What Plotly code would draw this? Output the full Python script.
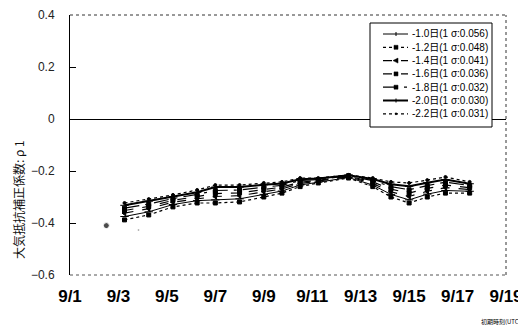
import plotly.graph_objects as go

# x: initial time (UTC)
times = ["2003-09-03 06:00", "2003-09-04 06:00", "2003-09-05 06:00", "2003-09-06 06:00",
         "2003-09-07 00:00", "2003-09-08 00:00", "2003-09-09 00:00", "2003-09-09 18:00",
         "2003-09-10 12:00", "2003-09-11 06:00", "2003-09-12 12:00", "2003-09-13 12:00",
         "2003-09-14 06:00", "2003-09-15 00:00", "2003-09-15 18:00", "2003-09-16 12:00",
         "2003-09-17 12:00"]

names = ["-1.0日(1 σ:0.056)", "-1.2日(1 σ:0.048)", "-1.4日(1 σ:0.041)", "-1.6日(1 σ:0.036)",
         "-1.8日(1 σ:0.032)", "-2.0日(1 σ:0.030)", "-2.2日(1 σ:0.031)"]

s10 = [-0.375, -0.357, -0.329, -0.314, -0.311, -0.307, -0.290, -0.277, -0.254, -0.243, -0.225, -0.254, -0.290, -0.311, -0.289, -0.275, -0.278]
s12 = [-0.388, -0.369, -0.338, -0.323, -0.323, -0.319, -0.300, -0.285, -0.260, -0.246, -0.227, -0.260, -0.300, -0.323, -0.300, -0.285, -0.285]
s14 = [-0.362, -0.345, -0.320, -0.306, -0.298, -0.295, -0.280, -0.269, -0.248, -0.239, -0.222, -0.248, -0.280, -0.298, -0.278, -0.264, -0.271]
s16 = [-0.352, -0.336, -0.313, -0.298, -0.287, -0.284, -0.271, -0.262, -0.243, -0.236, -0.220, -0.242, -0.270, -0.285, -0.267, -0.254, -0.264]
s18 = [-0.343, -0.327, -0.306, -0.290, -0.275, -0.273, -0.262, -0.255, -0.237, -0.233, -0.218, -0.237, -0.260, -0.272, -0.256, -0.243, -0.256]
s20 = [-0.332, -0.316, -0.298, -0.282, -0.262, -0.262, -0.253, -0.248, -0.232, -0.229, -0.216, -0.231, -0.251, -0.259, -0.245, -0.233, -0.249]
s22 = [-0.323, -0.308, -0.292, -0.273, -0.254, -0.254, -0.246, -0.242, -0.227, -0.227, -0.215, -0.227, -0.242, -0.246, -0.235, -0.223, -0.242]
series = [s10, s12, s14, s16, s18, s20, s22]

# isolated early points
iso_times = ["2003-09-02 12:00", "2003-09-03 20:00"]
iso_vals = [-0.41, -0.427]

tick_vals = ["2003-09-%02d" % d for d in range(1, 20, 2)]
tick_text = ["9/%d" % d for d in range(1, 20, 2)]

y_tick_vals = [-0.6, -0.4, -0.2, 0, 0.2, 0.4]
y_tick_text = ["\u22120.6", "\u22120.4", "\u22120.2", "0", "0.2", "0.4"]

styles = [
    dict(dash="solid", width=1, symbol="line-ew-open", size=6, leg="tick"),
    dict(dash="dot", width=1.2, symbol="square", size=4, leg="square"),
    dict(dash="dash", width=1.2, symbol="triangle-left", size=5, leg="tri"),
    dict(dash="dash", width=1.2, symbol="square", size=4, leg="square"),
    dict(dash="longdashdot", width=1.2, symbol="square", size=4, leg="square"),
    dict(dash="solid", width=2, symbol="line-ew-open", size=6, leg="tick"),
    dict(dash="dot", width=1.2, symbol="circle", size=3, leg="dot"),
]

fig = go.Figure()
for name, vals, st in zip(names, series, styles):
    fig.add_trace(go.Scatter(
        x=times, y=vals, name=name, mode="lines+markers", showlegend=False,
        line=dict(color="black", width=st["width"], dash=st["dash"]),
        marker=dict(color="black", symbol=st["symbol"], size=st["size"],
                    line=dict(color="black", width=1)),
    ))

fig.add_trace(go.Scatter(
    x=iso_times, y=iso_vals, mode="markers", showlegend=False,
    marker=dict(color="black", size=[6, 2], symbol="circle"),
))

# ---- custom legend box (paper coordinates; plot area is 436 x 260 px) ----
PW, PH = 436.0, 260.0
def px_x(p):  # pixel offset from plot left -> paper
    return p / PW
def px_y(p):  # pixel offset from plot top -> paper
    return 1 - p / PH

shapes = [
    dict(type="line", xref="paper", yref="paper", x0=0, x1=1, y0=1, y1=1,
         line=dict(color="#333", width=1, dash="dot")),
    dict(type="line", xref="paper", yref="paper", x0=1, x1=1, y0=0, y1=1,
         line=dict(color="#333", width=1, dash="dot")),
    dict(type="line", xref="paper", yref="paper", x0=0, x1=1, y0=0, y1=0,
         line=dict(color="#555", width=1, dash="dot")),
    dict(type="rect", xref="paper", yref="paper",
         x0=px_x(300), x1=px_x(422), y0=px_y(112), y1=px_y(8),
         line=dict(color="black", width=1), fillcolor="white", layer="above"),
]
annotations = []
row0, rowstep = 19.0, 13.3
for i, (name, st) in enumerate(zip(names, styles)):
    yc = row0 + i * rowstep
    shapes.append(dict(type="line", xref="paper", yref="paper",
                       x0=px_x(313), x1=px_x(338), y0=px_y(yc), y1=px_y(yc),
                       line=dict(color="black", width=st["width"], dash=st["dash"]),
                       layer="above"))
    xm = 326
    if st["leg"] == "square":
        shapes.append(dict(type="rect", xref="paper", yref="paper",
                           x0=px_x(xm - 2), x1=px_x(xm + 2), y0=px_y(yc + 2), y1=px_y(yc - 2),
                           line=dict(color="black", width=0.5), fillcolor="black", layer="above"))
    elif st["leg"] == "tri":
        shapes.append(dict(type="path", xref="paper", yref="paper",
                           path="M %f %f L %f %f L %f %f Z" % (
                               px_x(xm - 3), px_y(yc), px_x(xm + 2), px_y(yc - 2.5),
                               px_x(xm + 2), px_y(yc + 2.5)),
                           line=dict(color="black", width=0.5), fillcolor="black", layer="above"))
    elif st["leg"] == "tick":
        shapes.append(dict(type="line", xref="paper", yref="paper",
                           x0=px_x(xm), x1=px_x(xm), y0=px_y(yc - 2), y1=px_y(yc + 2),
                           line=dict(color="black", width=1), layer="above"))
    else:
        shapes.append(dict(type="circle", xref="paper", yref="paper",
                           x0=px_x(xm - 1), x1=px_x(xm + 1), y0=px_y(yc + 1), y1=px_y(yc - 1),
                           line=dict(color="black", width=0.5), fillcolor="black", layer="above"))
    annotations.append(dict(text=name, xref="paper", yref="paper",
                            x=px_x(340), y=px_y(yc), xanchor="left", yanchor="middle",
                            showarrow=False,
                            font=dict(size=10, family="Liberation Sans, Noto Sans CJK JP", color="black")))

annotations.append(dict(text="大気抵抗補正係数: ρ 1", xref="paper", yref="paper",
                        x=px_x(-52), y=px_y(185), xanchor="center", yanchor="middle",
                        textangle=-90, showarrow=False,
                        font=dict(size=12, family="Noto Sans CJK JP", color="#111")))
annotations.append(dict(text="初期時刻(UTC)", xref="paper", yref="paper",
                        x=px_x(453), y=px_y(306), xanchor="right", yanchor="middle",
                        showarrow=False,
                        font=dict(size=6, family="Noto Sans CJK JP", color="black")))

fig.update_layout(
    width=518, height=318,
    margin=dict(l=62, r=20, t=7, b=51, autoexpand=False),
    paper_bgcolor="white", plot_bgcolor="white",
    font=dict(family="Liberation Sans, Noto Sans CJK JP", color="black"),
    showlegend=False,
    xaxis=dict(
        type="date",
        range=["2003-09-01", "2003-09-19"],
        tickvals=tick_vals, ticktext=tick_text,
        ticks="", showgrid=False, zeroline=False, showline=False,
        tickfont=dict(size=17, family="Liberation Sans", color="black", weight="bold"),
        ticklabelstandoff=9,
    ),
    yaxis=dict(
        range=[-0.6, 0.4],
        tickvals=y_tick_vals, ticktext=y_tick_text,
        ticks="inside", ticklen=6, tickcolor="black",
        showgrid=False, zeroline=True, zerolinecolor="black", zerolinewidth=1,
        showline=True, linecolor="black", linewidth=1,
        tickfont=dict(size=12, color="#222"),
        ticklabelstandoff=12,
    ),
    shapes=shapes,
    annotations=annotations,
)

fig.write_html("out.html")
